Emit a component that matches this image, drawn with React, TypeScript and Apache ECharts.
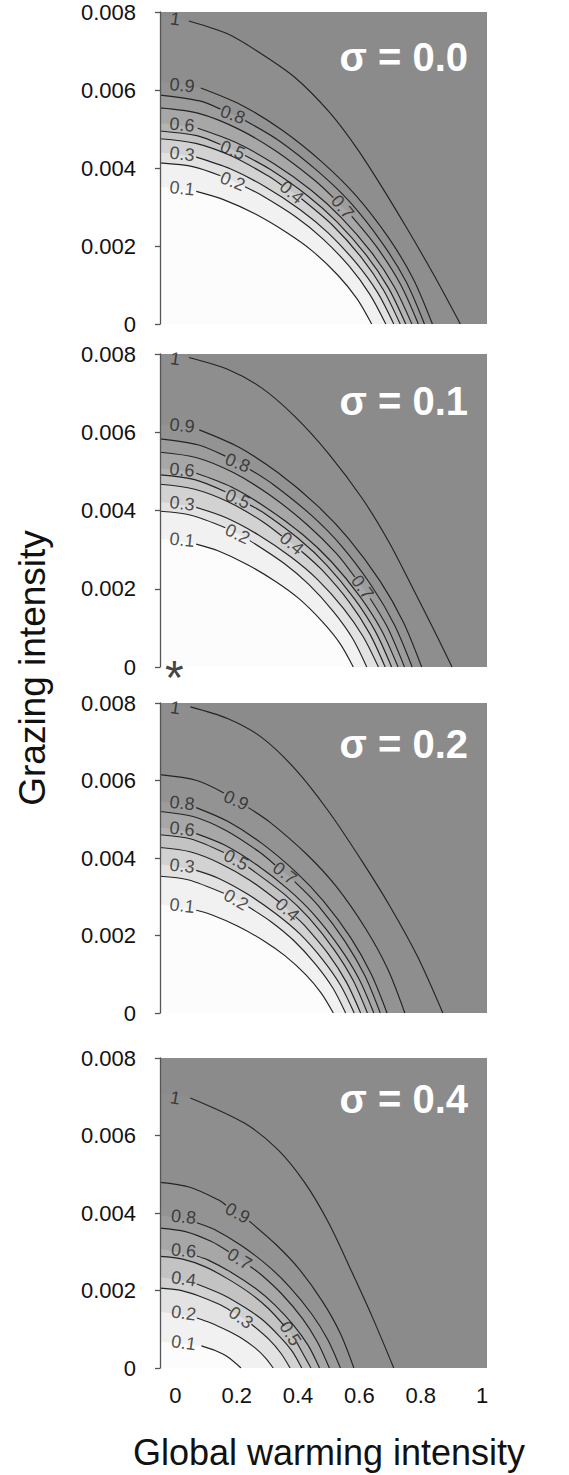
import React, { useEffect, useRef } from 'react';
import * as echarts from 'echarts';

const FONT = '"Liberation Sans", Arial, Helvetica, sans-serif';

// ---------- data ----------
const levels = ['0.1', '0.2', '0.3', '0.4', '0.5', '0.6', '0.7', '0.8', '0.9', '1'];
const sigmaTitles = ['σ = 0.0', 'σ = 0.1', 'σ = 0.2', 'σ = 0.4'];
const xTicks = [0, 0.2, 0.4, 0.6, 0.8, 1];
const yTicks = [0, 0.002, 0.004, 0.006, 0.008];
const xTitle = 'Global warming intensity';
const yTitle = 'Grazing intensity';
const markerPts = [[0, 0]]; // the asterisk under panel σ = 0.1

type P = [number, number] | null; // null = break in the drawn line (where its label sits)

// σ = 0.0
const p1c01: P[] = [[-0.05, .00352], null, [0.068, .0034], [0.157, .00319], [0.261, .00282], [0.364, .00234], [0.447, .00187], [0.53, .00125], [0.592, .00065], [0.64, 0]];
const p1c02: P[] = [[-0.05, .00413], [0.06, .00403], [0.147, .0038], null, [0.227, .00352], [0.281, .0033], [0.392, .00275], [0.48, .00219], [0.568, .00147], [0.634, .00076], [0.686, 0]];
const p1c03: P[] = [[-0.05, .0044], null, [0.068, .00428], [0.179, .00398], [0.293, .00352], [0.407, .00293], [0.499, .00233], [0.59, .00156], [0.659, .00081], [0.712, 0]];
const p1c04: P[] = [[-0.05, .00475], [0.067, .00463], [0.185, .0043], [0.302, .0038], [0.347, .00356], null, [0.411, .00321], [0.514, .00252], [0.608, .00169], [0.678, .00088], [0.733, 0]];
const p1c05: P[] = [[-0.05, .00495], [0.07, .00483], [0.147, .0046], null, [0.227, .00432], [0.31, .00396], [0.431, .00329], [0.527, .00262], [0.623, .00176], [0.695, .00092], [0.751, 0]];
const p1c06: P[] = [[-0.05, .00515], null, [0.073, .00502], [0.196, .00466], [0.319, .00412], [0.443, .00343], [0.541, .00273], [0.64, .00183], [0.714, .00095], [0.771, 0]];
const p1c07: P[] = [[-0.05, .00554], [0.076, .0054], [0.203, .00501], [0.329, .00443], [0.455, .00368], [0.515, .00324], null, [0.575, .00276], [0.657, .00197], [0.733, .00103], [0.792, 0]];
const p1c08: P[] = [[-0.05, .00587], [0.079, .00572], [0.147, .00551], null, [0.227, .00522], [0.338, .0047], [0.467, .0039], [0.571, .00311], [0.674, .00208], [0.752, .00109], [0.812, 0]];
const p1c09: P[] = [[-0.05, .0062], null, [0.083, .00605], [0.216, .00561], [0.35, .00496], [0.483, .00412], [0.589, .00329], [0.696, .0022], [0.776, .00115], [0.838, 0]];
const p1c10: P[] = [[-0.05, .0079], null, [0.044, .00777], [0.17, .00744], [0.28, .00693], [0.39, .00632], [0.5, .00545], [0.588, .00455], [0.665, .00362], [0.753, .00248], [0.841, .00128], [0.929, 0]];
const p1LabX = [0.022, 0.187, 0.022, 0.379, 0.187, 0.022, 0.545, 0.187, 0.022, 0.0];
const p1LabY = [.00348, .00366, .00436, .00338, .00446, .00511, .003, .00537, .00612, .00782];

// σ = 0.1
const p2c01: P[] = [[-0.05, .00328], null, [0.068, .00314], [0.139, .00297], [0.234, .00262], [0.328, .00218], [0.404, .00174], [0.479, .00116], [0.536, .00061], [0.58, 0]];
const p2c02: P[] = [[-0.05, .00398], [0.051, .00388], [0.163, .00356], null, [0.243, .00323], [0.354, .00265], [0.435, .00211], [0.516, .00141], [0.577, .00074], [0.624, 0]];
const p2c03: P[] = [[-0.05, .00422], null, [0.068, .00408], [0.164, .00382], [0.27, .00338], [0.377, .00281], [0.463, .00224], [0.548, .0015], [0.612, .00078], [0.662, 0]];
const p2c04: P[] = [[-0.05, .00467], [0.06, .00455], [0.17, .00423], [0.28, .00374], [0.347, .00335], null, [0.411, .00296], [0.478, .00248], [0.567, .00166], [0.633, .00086], [0.684, 0]];
const p2c05: P[] = [[-0.05, .00491], [0.063, .00479], [0.163, .00448], null, [0.243, .00414], [0.29, .00393], [0.403, .00327], [0.494, .0026], [0.584, .00174], [0.652, .00091], [0.705, 0]];
const p2c06: P[] = [[-0.05, .00508], null, [0.068, .00495], [0.183, .0046], [0.299, .00406], [0.416, .00338], [0.509, .00269], [0.602, .0018], [0.672, .00094], [0.726, 0]];
const p2c07: P[] = [[-0.05, .00549], [0.07, .00535], [0.189, .00497], [0.309, .00439], [0.428, .00365], [0.524, .00291], [0.585, .0023], null, [0.635, .00175], [0.691, .00102], [0.747, 0]];
const p2c08: P[] = [[-0.05, .00583], [0.073, .00568], [0.163, .00539], null, [0.243, .00505], [0.32, .00466], [0.443, .00388], [0.542, .00309], [0.64, .00207], [0.714, .00108], [0.772, 0]];
const p2c09: P[] = [[-0.05, .00621], null, [0.078, .00606], [0.206, .00562], [0.334, .00497], [0.462, .00413], [0.564, .00329], [0.667, .0022], [0.743, .00115], [0.803, 0]];
const p2c10: P[] = [[-0.05, .008], null, [0.044, .00791], [0.17, .00761], [0.28, .00714], [0.39, .0064], [0.5, .00545], [0.61, .0043], [0.698, .00317], [0.775, .002], [0.841, .00098], [0.902, 0]];
const p2LabX = [0.022, 0.203, 0.022, 0.379, 0.203, 0.022, 0.61, 0.203, 0.022, 0.0];
const p2LabY = [.00325, .0034, .00418, .00316, .0043, .00504, .00204, .00522, .00617, .00788];

// σ = 0.2
const p3c01: P[] = [[-0.05, .0028], null, [0.068, .00265], [0.12, .00253], [0.204, .00224], [0.289, .00186], [0.357, .00148], [0.425, .00099], [0.475, .00052], [0.515, 0]];
const p3c02: P[] = [[-0.05, .00353], [0.041, .00344], [0.158, .00309], null, [0.238, .00274], [0.313, .00235], [0.386, .00187], [0.458, .00125], [0.513, .00065], [0.555, 0]];
const p3c03: P[] = [[-0.05, .00384], null, [0.068, .00368], [0.14, .00348], [0.235, .00307], [0.33, .00255], [0.406, .00204], [0.482, .00136], [0.539, .00071], [0.583, 0]];
const p3c04: P[] = [[-0.05, .00427], [0.048, .00416], [0.146, .00386], [0.244, .00342], [0.338, .00287], null, [0.392, .00248], [0.421, .00226], [0.499, .00152], [0.558, .00079], [0.604, 0]];
const p3c05: P[] = [[-0.05, .0046], [0.051, .00449], [0.158, .00414], null, [0.238, .00376], [0.356, .00306], [0.437, .00244], [0.518, .00163], [0.579, .00085], [0.626, 0]];
const p3c06: P[] = [[-0.05, .00479], null, [0.068, .00463], [0.159, .00434], [0.264, .00383], [0.368, .00319], [0.452, .00254], [0.535, .0017], [0.598, .00089], [0.647, 0]];
const p3c07: P[] = [[-0.05, .0052], [0.058, .00507], [0.165, .00471], [0.273, .00416], [0.325, .00382], null, [0.389, .00339], [0.467, .00276], [0.553, .00185], [0.618, .00096], [0.668, 0]];
const p3c08: P[] = [[-0.05, .00546], null, [0.068, .0053], [0.172, .00494], [0.283, .00437], [0.394, .00363], [0.483, .00289], [0.572, .00194], [0.638, .00101], [0.69, 0]];
const p3c09: P[] = [[-0.05, .00615], [0.07, .006], [0.158, .00568], null, [0.238, .0053], [0.309, .00492], [0.429, .00409], [0.525, .00326], [0.62, .00218], [0.692, .00114], [0.748, 0]];
const p3c10: P[] = [[-0.05, .008], null, [0.049, .0079], [0.17, .0076], [0.28, .00712], [0.39, .0063], [0.5, .0052], [0.61, .0039], [0.7, .00275], [0.79, .00145], [0.872, 0]];
const p3LabX = [0.022, 0.198, 0.022, 0.365, 0.198, 0.022, 0.357, 0.022, 0.198, 0.0];
const p3LabY = [.00277, .00292, .0038, .00267, .00395, .00475, .00361, .00542, .00549, .00788];

// σ = 0.4
const p4c01: P[] = [[-0.05, .00068], null, [0.085, .00057], [0.13, .00045], [0.17, .00029], [0.214, 0]];
const p4c02: P[] = [[-0.05, .00145], null, [0.07, .00129], [0.116, .00116], [0.171, .00096], [0.216, .00077], [0.26, .00052], [0.293, .00027], [0.319, 0]];
const p4c03: P[] = [[-0.05, .00206], [0.014, .00201], [0.077, .00186], [0.141, .00165], [0.18, .00148], null, [0.248, .00113], [0.306, .00073], [0.344, .00038], [0.374, 0]];
const p4c04: P[] = [[-0.05, .00235], null, [0.07, .00217], [0.158, .00188], [0.227, .00156], [0.283, .00125], [0.338, .00083], [0.38, .00044], [0.412, 0]];
const p4c05: P[] = [[-0.05, .00288], [0.024, .00281], [0.098, .00261], [0.171, .0023], [0.245, .00192], [0.304, .00153], [0.355, .00109], null, [0.395, .00067], [0.442, 0]];
const p4c06: P[] = [[-0.05, .00308], null, [0.07, .00289], [0.106, .00279], [0.184, .00246], [0.262, .00205], [0.324, .00163], [0.387, .00109], [0.434, .00057], [0.47, 0]];
const p4c07: P[] = [[-0.05, .00361], [0.033, .00352], [0.116, .00327], [0.174, .003], null, [0.244, .00262], [0.281, .0024], [0.347, .00191], [0.414, .00128], [0.463, .00067], [0.502, 0]];
const p4c08: P[] = [[-0.05, .00395], null, [0.07, .00375], [0.126, .00358], [0.215, .00316], [0.303, .00263], [0.373, .00209], [0.444, .0014], [0.497, .00073], [0.538, 0]];
const p4c09: P[] = [[-0.05, .00479], [0.045, .00467], [0.14, .00434], [0.165, .0042], null, [0.241, .00379], [0.329, .00318], [0.405, .00254], [0.481, .0017], [0.538, .00089], [0.582, 0]];
const p4c10: P[] = [[-0.05, .0071], null, [0.049, .00697], [0.225, .00632], [0.335, .00563], [0.423, .00477], [0.5, .00374], [0.577, .00245], [0.643, .0013], [0.712, 0]];
const p4LabX = [0.027, 0.027, 0.214, 0.027, 0.375, 0.027, 0.209, 0.027, 0.203, 0.0];
const p4LabY = [.00065, .00142, .0013, .0023, .00089, .00303, .00281, .0039, .004, .00697];

const panels = [
  [p1c01, p1c02, p1c03, p1c04, p1c05, p1c06, p1c07, p1c08, p1c09, p1c10],
  [p2c01, p2c02, p2c03, p2c04, p2c05, p2c06, p2c07, p2c08, p2c09, p2c10],
  [p3c01, p3c02, p3c03, p3c04, p3c05, p3c06, p3c07, p3c08, p3c09, p3c10],
  [p4c01, p4c02, p4c03, p4c04, p4c05, p4c06, p4c07, p4c08, p4c09, p4c10],
];
const labX = [p1LabX, p2LabX, p3LabX, p4LabX];
const labY = [p1LabY, p2LabY, p3LabY, p4LabY];

// ---------- styles / layout ----------
const labRot = [
  [-6, -22, -6, -40, -22, -5, -50, -20, -6, -8],
  [-6, -25, -6, -40, -24, -5, -55, -22, -6, -8],
  [-6, -30, -6, -42, -28, -6, -38, -6, -24, -8],
  [-8, -8, -35, -8, -58, -6, -32, -6, -28, -10],
];
// fill below each contour level (index follows levels)
const fillColors = ['#fcfcfc', '#f1f1f1', '#e2e2e2', '#d2d2d2', '#c3c3c3', '#b4b4b4', '#a7a7a7', '#9c9c9c', '#939393', '#8e8e8e'];
const BG = '#8b8b8b';
const LINE = '#242424';
const LEFT = 160;
const WIDTH = 327;
const grids = [
  { top: 12, height: 312, sigmaDy: 45 },
  { top: 354, height: 313, sigmaDy: 47 },
  { top: 703, height: 310, sigmaDy: 41 },
  { top: 1058, height: 310, sigmaDy: 41 },
];
const XMIN = -0.05;
const XMAX = 1.016;
const SMOOTH = 0.3;

export default function App() {
  const ref = useRef<HTMLDivElement>(null);
  useEffect(() => {
    document.body.style.margin = '0';
    if (!ref.current) return;
    const chart = echarts.init(ref.current, null, { renderer: 'svg' });

    const series: any[] = [];
    panels.forEach((contours, p) => {
      for (let i = contours.length - 1; i >= 0; i--) {
        series.push({
          type: 'line',
          xAxisIndex: p,
          yAxisIndex: p,
          data: contours[i].filter((pt) => pt !== null),
          smooth: SMOOTH,
          symbol: 'none',
          silent: true,
          lineStyle: { width: 0, opacity: 0 },
          areaStyle: { color: fillColors[i], opacity: 1 },
          z: 1,
        });
      }
      contours.forEach((c) => {
        series.push({
          type: 'line',
          xAxisIndex: p,
          yAxisIndex: p,
          data: c.map((pt) => (pt === null ? ['-', '-'] : pt)),
          smooth: SMOOTH,
          connectNulls: false,
          symbol: 'none',
          silent: true,
          lineStyle: { color: LINE, width: 1.15 },
          z: 3,
        });
      });
      series.push({
        type: 'scatter',
        xAxisIndex: p,
        yAxisIndex: p,
        symbolSize: 1,
        itemStyle: { color: 'rgba(0,0,0,0)' },
        silent: true,
        z: 4,
        label: { show: true, position: 'inside', fontSize: 18, color: LINE, fontFamily: FONT },
        data: levels.map((t, i) => ({
          value: [labX[p][i], labY[p][i]],
          label: { formatter: t, rotate: labRot[p][i] },
        })),
      });
    });
    series.push({
      type: 'scatter',
      xAxisIndex: 1,
      yAxisIndex: 1,
      symbolSize: 1,
      itemStyle: { color: 'rgba(0,0,0,0)' },
      silent: true,
      clip: false,
      z: 5,
      label: { show: true, position: 'inside', formatter: '*', fontSize: 48, color: '#111', fontFamily: FONT, offset: [-1, 10] },
      data: markerPts,
    });

    const graphic: any[] = grids.map((g, i) => ({
      type: 'text',
      x: LEFT + WIDTH - 19,
      y: g.top + g.sigmaDy,
      z: 10,
      style: {
        text: sigmaTitles[i],
        fill: '#ffffff',
        font: `bold 40px ${FONT}`,
        align: 'right',
        verticalAlign: 'middle',
        textAlign: 'right',
        textVerticalAlign: 'middle',
      },
    }));
    graphic.push({
      type: 'text',
      x: 32,
      y: 668,
      rotation: Math.PI / 2,
      style: { text: yTitle, fill: '#111', font: `37px ${FONT}`, align: 'center', verticalAlign: 'middle', textAlign: 'center', textVerticalAlign: 'middle' },
    });
    graphic.push({
      type: 'text',
      x: 329,
      y: 1452,
      style: { text: xTitle, fill: '#111', font: `36px ${FONT}`, align: 'center', verticalAlign: 'middle', textAlign: 'center', textVerticalAlign: 'middle' },
    });

    chart.setOption({
      animation: false,
      backgroundColor: '#ffffff',
      grid: grids.map((g) => ({
        left: LEFT,
        top: g.top,
        width: WIDTH,
        height: g.height,
        show: true,
        backgroundColor: BG,
        borderWidth: 0,
      })),
      xAxis: grids.map((g, i) => ({
        gridIndex: i,
        type: 'value',
        min: XMIN,
        max: XMAX,
        axisLine: { show: false },
        axisTick: { show: false },
        splitLine: { show: false },
        axisLabel: {
          show: i === 3,
          customValues: xTicks,
          margin: 16,
          fontSize: 22,
          color: '#111',
          fontFamily: FONT,
          formatter: (v: number) => String(v),
        },
      })),
      yAxis: grids.map((g, i) => ({
        gridIndex: i,
        type: 'value',
        min: 0,
        max: 0.008,
        interval: 0.002,
        z: 10,
        axisLine: { show: true, onZero: false, lineStyle: { color: '#555', width: 1.3 } },
        axisTick: { show: true, length: 5, customValues: yTicks, lineStyle: { color: '#555', width: 1.3 } },
        splitLine: { show: false },
        axisLabel: {
          margin: 24,
          fontSize: 22,
          color: '#111',
          fontFamily: FONT,
          customValues: yTicks,
          formatter: (v: number) => (v === 0 ? '0' : v.toFixed(3)),
        },
      })),
      graphic,
      series,
    });
    return () => chart.dispose();
  }, []);
  return <div ref={ref} style={{ width: 569, height: 1475 }} />;
}
